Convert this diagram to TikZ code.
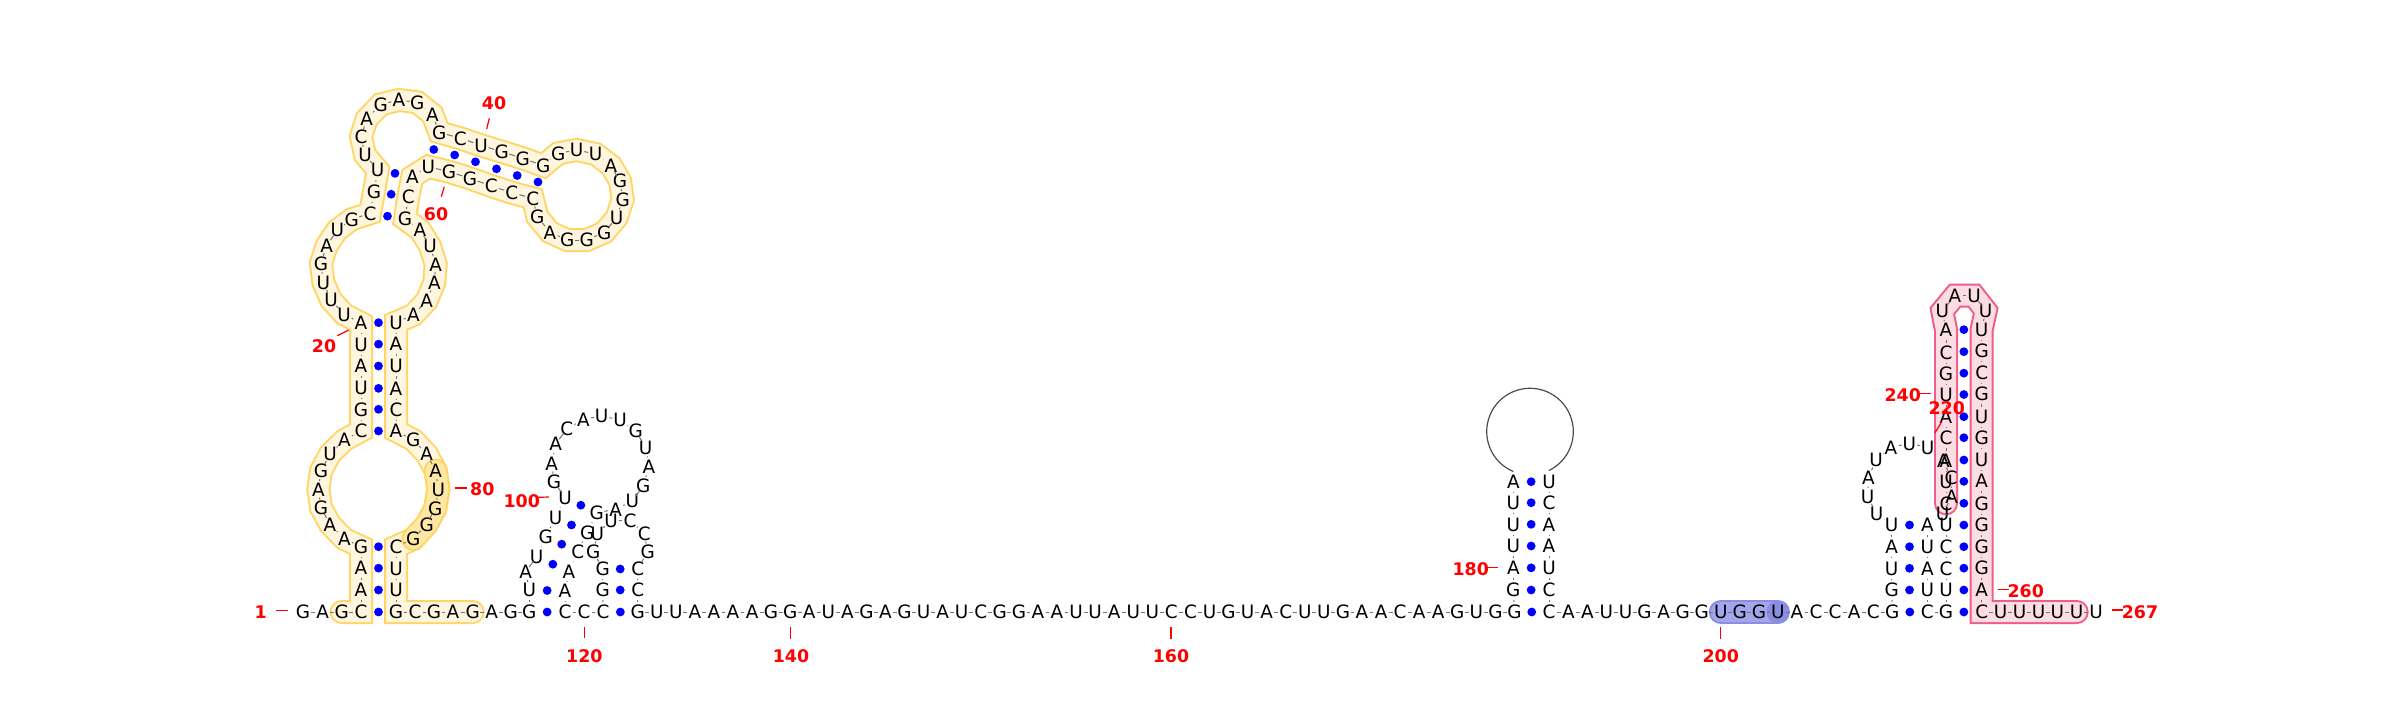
\documentclass[tikz,border=0pt]{standalone}
\usepackage{fontspec}
\setmainfont{DejaVu Sans}
\usetikzlibrary{backgrounds}
\definecolor{hlyedge}{HTML}{FFD666}
\definecolor{hlyfill}{HTML}{FFF6E0}
\definecolor{hlydark}{HTML}{FFE7A6}
\definecolor{hlpedge}{HTML}{EE5C87}
\definecolor{hlpfill}{HTML}{FCDDE4}
\definecolor{hlbedge}{HTML}{8A8EE2}
\definecolor{hlbfill}{HTML}{A3A6EA}
\tikzset{
  nt/.style={rectangle,inner sep=0pt,minimum width=7.2pt,minimum height=9.8pt,text height=6.7pt,text depth=0pt,font=\fontsize{9.2}{9.2}\selectfont},
  backbone/.style={draw=black!55,line width=.5pt},
  loopline/.style={draw=black!70,line width=.6pt},
  bpdot/.style={circle,fill=blue,inner sep=0pt,minimum size=4.4pt},
  numlab/.style={text=red,inner sep=0pt,font=\fontsize{8.7}{8.7}\selectfont\bfseries},
  numtick/.style={draw=red,line width=.6pt},
  bandout/.style={line width=12pt,line cap=round,line join=miter,miter limit=10},
  bandin/.style={line width=10pt,line cap=round,line join=miter,miter limit=10}
}
\newcommand{\hlband}[4]{%
  \draw[bandout,draw=#3] (n#1.center) \foreach \k in {#2}{ -- (n\k.center)};
  \draw[bandin,draw=#4] (n#1.center) \foreach \k in {#2}{ -- (n\k.center)};
}
\begin{document}
\begin{tikzpicture}[x=.5pt,y=-.5pt]
  \useasboundingbox (0,0) rectangle (2400,708);

  % nucleotides 1 to 131
  \foreach \px/\py/\b [count=\i] in {303/612/G,322.7/612/A,341.7/612/G,361/612/C,361/590/A,361/568/A,361/546.7/G,
    344.3/539/A,330/524.3/A,321/507.7/G,318.3/489.3/A,321/471/G,330/454/U,344.3/440/A,
    361/431/C,361/409.3/G,361/387.7/U,361/366/A,361/344.3/U,361/323/A,
    344/314.3/U,331/300/U,323.3/282.3/U,321/263.3/G,326.7/245.7/A,337.3/230/U,351.7/219.3/G,
    370/213.3/C,374/191.7/G,377.7/170/U,
    365/155/U,361/136.7/C,366.7/119/A,380.7/104.3/G,399/100/A,417.3/102.3/G,432.3/114.3/A,
    439.3/132.3/G,460.3/138.3/C,481/145.3/U,501.7/151.7/G,522.7/158.3/G,543.3/165.7/G,
    558.3/153.3/G,576.7/150/U,595.7/154/U,611/165.7/A,620/181/G,622.7/199.3/G,616.7/217.7/U,
    604.3/232.3/G,586.7/240/G,567.3/240/G,550/232.3/A,537.3/216.7/G,
    532.7/198.3/C,511.7/192.7/C,491.3/186/C,470/178.3/G,449/171.7/G,428.3/166.7/U,
    412.3/176.7/A,408.3/196.7/C,405/219/G,
    420/230/A,430/246/U,435.7/264.3/A,434.3/282.3/A,426.7/300.7/A,413.3/315/A,
    396/322.3/U,396/344/A,396/366/U,396/389/A,396/409.3/C,396/431/A,
    413.3/440/G,426.7/454/A,435.7/470.7/A,438.3/489.3/U,435.3/508.3/G,426.7/524.3/G,413.3/539/G,
    396/546.7/C,396/568.3/U,396/590/U,396/612/G,
    415/612/C,434/612/G,453/612/A,472.7/612/G,491.7/612/A,510.7/612/G,529.3/612/G,
    529.3/590/U,525.7/571.7/A,536.7/556.7/U,545.7/536.7/G,555.7/517.7/U,565/497.7/U,
    554/481.7/G,551.7/463.3/A,555.7/444/A,566.7/429/C,583.3/419.3/A,601.7/416/U,620/420/U,
    635.7/431/G,645.7/447.3/U,649/466.7/A,643.3/485.7/G,632.3/501/U,615.7/509.3/A,
    596.7/512.7/G,587.3/532.3/G,577.7/551.7/C,569/571.7/A,565/591/A,565/612/C,584/612/C,603/612/C,
    602.7/590/G,602.7/569/G,593.3/551.7/G,597.3/533.3/U,611/520.7/U,630/520.7/C,
    644.3/533.3/C,647.7/551.7/G,637.7/569/C,637.7/590/C}
    \node[nt] (n\i) at (\px,\py) {\makebox[0pt]{\b}};

  % long single strand
  \foreach \b [count=\i from 132] in {G,U,U,A,A,A,A,G,G,A,U,A,G,A,G,U,A,U,C,G,G,A,A,U,U,A,U,U,C,C,U,G,U,A,C,U,U,G,A,A,C,A,A,G,U,G,G}{
    \pgfmathsetmacro\px{637.7+19.06*(\i-132)}
    \node[nt] (n\i) at (\px,612) {\makebox[0pt]{\b}};
  }
  \foreach \py/\b [count=\i from 179] in {590/G,568/A,546/U,524.3/U,502.7/U,481.7/A}
    \node[nt] (n\i) at (1513.3,\py) {\makebox[0pt]{\b}};
  \foreach \py/\b [count=\i from 185] in {481.7/U,502.7/C,524.3/A,546/A,567.7/U,590/C,612/C}
    \node[nt] (n\i) at (1549,\py) {\makebox[0pt]{\b}};
  \foreach \b [count=\i from 192] in {A,A,U,U,G,A,G,G,U,G,G,U,A,C,C,A,C,G}{
    \pgfmathsetmacro\px{1568.3+19.06*(\i-192)}
    \node[nt] (n\i) at (\px,612) {\makebox[0pt]{\b}};
  }

  % right hairpins
  \foreach \px/\py/\b [count=\i from 210] in {1891.7/590/G,1891.7/568.3/U,1891.7/546.7/A,1891.7/525/U,
    1876.7/514/U,1867.7/496.7/U,1868.3/477.7/A,1876/460/U,1891/447.3/A,1909.3/443.3/U,1927.7/447.3/U,
    1943.3/460.7/A,1951/477.7/C,1951.7/496.7/A,1942.7/513.3/U,
    1927.3/525/A,1927.3/546.7/U,1927.3/568.3/A,1927.3/590/U,1927.3/612/C,
    1946/612/G,1946/590/U,1946/568.3/C,1946/546.7/C,1946/525/U,1946/503.3/C,1946/481.7/U,1946/460.7/A,
    1946/437.7/C,1946/416.7/A,1946/395/U,1946/374/G,1946/352.7/C,1946/330/A,
    1942.3/311/U,1955/295.7/A,1974/295.7/U,1985.7/310.7/U,
    1981.7/329.3/U,1981.7/350.7/G,1981.7/372.3/C,1981.7/394/G,1981.7/416.7/U,1981.7/437.7/G,
    1981.7/459.3/U,1981.7/481/A,1981.7/503.3/G,1981.7/525/G,1981.7/546.7/G,1981.7/568/G,1981.7/590/A,1981.7/612/C,
    2000.7/612/U,2019.6/612/U,2038.5/612/U,2057.4/612/U,2076.7/612/U,2096/612/U}
    \node[nt] (n\i) at (\px,\py) {\makebox[0pt]{\b}};

  % backbone
  \foreach \i [remember=\i as \j (initially 1)] in {2,...,184}
    \draw[backbone] (n\j) -- (n\i);
  \foreach \i [remember=\i as \j (initially 185)] in {186,...,267}
    \draw[backbone] (n\j) -- (n\i);
  \draw[loopline] (n184.north) arc[start angle=112.7,end angle=424.2,radius=43.3];

  % base pairs
  \foreach \from/\to in {4/87,5/86,6/85,7/84,15/76,16/75,17/74,18/73,19/72,20/71,28/64,29/63,30/62,
    38/61,39/60,40/59,41/58,42/57,43/56,94/119,95/118,97/117,98/116,99/115,100/114,121/132,122/131,123/130,
    178/191,179/190,180/189,181/188,182/187,183/186,184/185,209/229,210/228,211/227,212/226,213/225,
    230/261,231/260,232/259,233/258,234/257,235/256,236/255,237/254,238/253,239/252,240/251,241/250,242/249,243/248}
    \path (n\from.center) -- (n\to.center) node[pos=.5,bpdot] (d\from) {};

  % numbering
  \foreach \lab/\lx/\ly/\ax/\ay/\bx/\by in {1/260.7/611.7/276/610.7/288/610.7,
    20/324/346/337.3/335.7/348.7/330,40/494/103.3/489.3/118.3/486.7/129,
    60/436/214/444.3/186.7/441.3/196.7,80/482.3/489.3/455/488/466.7/488,
    100/521.7/500.7/538/497.3/549/497,120/584.3/655.7/584.3/627.3/584.3/638.3,
    140/791/655.7/790.3/627/790.3/639,160/1171/655.7/1171/627/1171/639,
    180/1470.7/569/1486.7/567.3/1498.3/567.3,200/1720.7/655.7/1720.7/627/1720.7/639,
    220/1946.7/408.3/1935/432.7/1941.7/421.7,240/1902.7/395/1920/393.3/1930.7/393.3,
    260/2025.7/591/1997.7/589.3/2009/589.3,267/2140/612.3/2111.7/610/2123.3/610}{
    \node[numlab] (lab\lab) at (\lx,\ly) {\lab};
    \coordinate (ta\lab) at (\ax,\ay);
    \coordinate (tb\lab) at (\bx,\by);
    \draw[numtick] (ta\lab) -- (tb\lab);
  }

  % highlighted regions
  \begin{pgfonlayer}{background}
    \hlband{3}{4,...,91}{hlyedge}{hlyfill}
    \hlband{79}{80,...,83}{hlyedge}{hlydark}
    \hlband{235}{236,...,266}{hlpedge}{hlpfill}
    \hlband{200}{201,202,203}{hlbedge}{hlbfill}
    \fill[hlbedge] (n203.center) circle[radius=11.5];
  \end{pgfonlayer}
\end{tikzpicture}
\end{document}
